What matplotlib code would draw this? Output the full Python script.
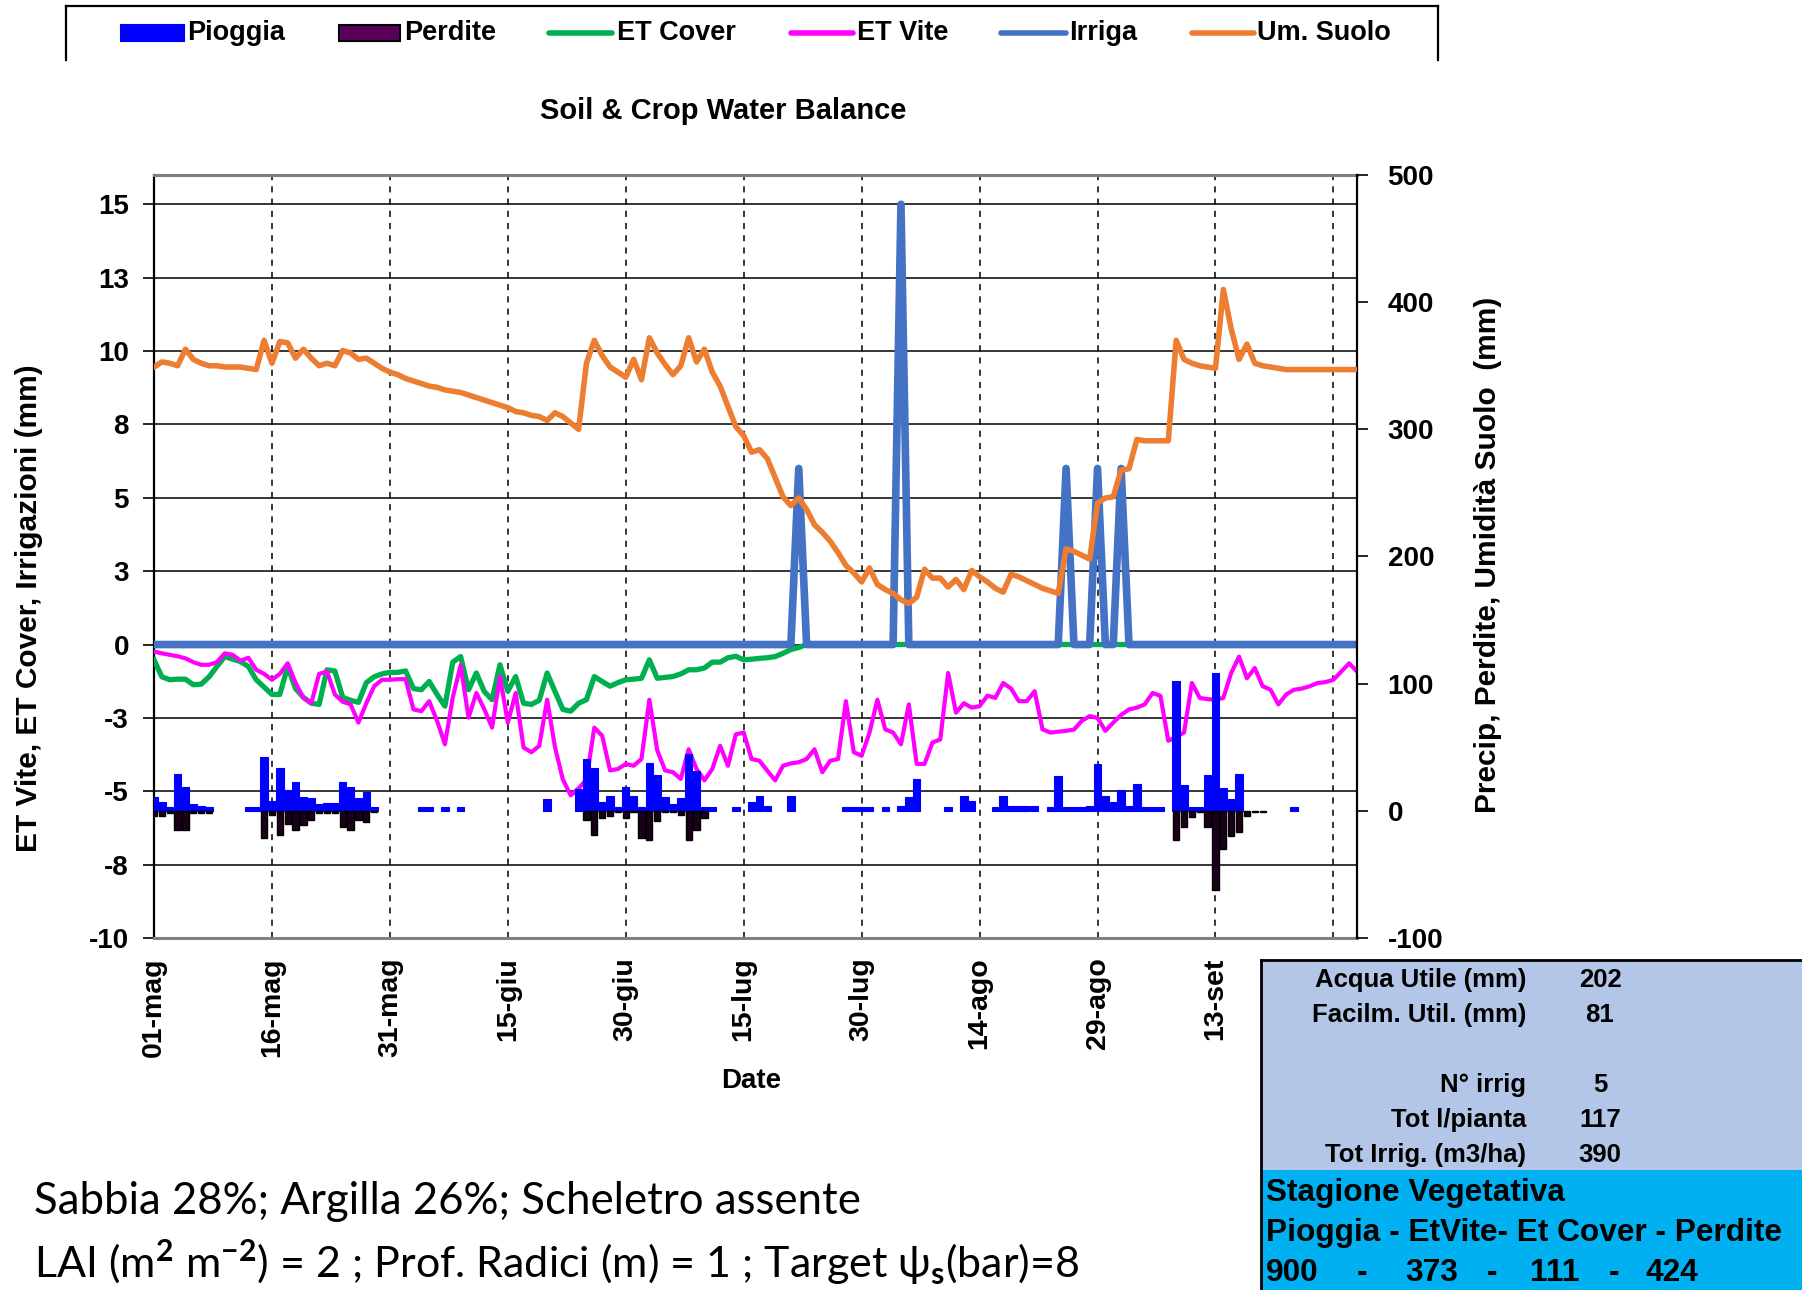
import numpy as np
import matplotlib
matplotlib.use("Agg")
import matplotlib.pyplot as plt
from matplotlib.patches import Rectangle
from matplotlib.lines import Line2D

# ---------------- data ----------------
date_labels = ['01-mag', '16-mag', '31-mag', '15-giu', '30-giu', '15-lug',
               '30-lug', '14-ago', '29-ago', '13-set', '']
left_tick_vals = [-10, -7.5, -5, -2.5, 0, 2.5, 5, 7.5, 10, 12.5, 15]
left_tick_labels = ['-10', '-8', '-5', '-3', '0', '3', '5', '8', '10', '13', '15']
right_tick_vals = [-100, 0, 100, 200, 300, 400, 500]

et_cover = [
    -0.52, -1.10, -1.20, -1.18, -1.18, -1.37, -1.35, -1.10, -0.75, -0.41,
    -0.50, -0.58, -0.75, -1.20, -1.45, -1.70, -1.70, -0.75, -1.50, -1.80,
    -2.00, -2.04, -0.86, -0.90, -1.80, -1.90, -1.97, -1.30, -1.10, -1.00,
    -0.95, -0.95, -0.90, -1.50, -1.54, -1.26, -1.70, -2.10, -0.60, -0.41,
    -1.54, -0.97, -1.60, -1.88, -0.69, -1.59, -1.09, -2.00, -2.04, -1.90,
    -0.97, -1.60, -2.21, -2.27, -2.00, -1.88, -1.09, -1.26, -1.42, -1.30,
    -1.20, -1.18, -1.15, -0.52, -1.15, -1.12, -1.09, -1.00, -0.86, -0.86,
    -0.80, -0.60, -0.60, -0.45, -0.40, -0.52, -0.50, -0.47, -0.45, -0.41,
    -0.30, -0.17, -0.10, 0, 0, 0, 0, 0, 0, 0,
    0, 0, 0, 0, 0, 0, 0, 0, 0, 0,
    0, 0, 0, 0, 0, 0, 0, 0, 0, 0,
    0, 0, 0, 0, 0, 0, 0, 0, 0, 0,
    0, 0, 0, 0, 0, 0, 0, 0, 0, 0,
    0, 0, 0, 0, 0, 0, 0, 0, 0, 0,
    0, 0, 0, 0, 0, 0, 0, 0, 0, 0,
    0, 0, 0, 0]

et_vite = [
    -0.24, -0.30, -0.35, -0.40, -0.47, -0.60, -0.69, -0.69, -0.60, -0.30,
    -0.35, -0.55, -0.45, -0.86, -1.00, -1.20, -1.00, -0.64, -1.30, -1.82,
    -2.00, -1.00, -0.92, -1.70, -1.95, -2.04, -2.66, -2.00, -1.42, -1.20,
    -1.20, -1.18, -1.18, -2.21, -2.27, -1.93, -2.60, -3.40, -1.80, -0.70,
    -2.49, -1.65, -2.20, -2.83, -1.09, -2.66, -1.65, -3.51, -3.67, -3.45,
    -1.88, -3.50, -4.60, -5.14, -4.90, -4.60, -2.83, -3.11, -4.29, -4.24,
    -4.07, -4.13, -3.90, -1.88, -3.60, -4.29, -4.35, -4.58, -3.57, -4.24,
    -4.63, -4.24, -3.45, -4.13, -3.06, -3.00, -3.90, -3.96, -4.30, -4.63,
    -4.13, -4.05, -4.01, -3.90, -3.57, -4.35, -3.96, -3.90, -1.93, -3.67,
    -3.79, -3.00, -1.88, -2.89, -3.00, -3.40, -2.04, -4.07, -4.07, -3.34,
    -3.23, -0.97, -2.32, -2.00, -2.15, -2.10, -1.74, -1.82, -1.31, -1.50,
    -1.93, -1.93, -1.59, -2.89, -3.00, -2.97, -2.94, -2.90, -2.60, -2.44,
    -2.50, -2.94, -2.66, -2.40, -2.21, -2.15, -2.04, -1.65, -1.75, -3.28,
    -3.15, -3.00, -1.31, -1.82, -1.86, -1.88, -1.82, -0.97, -0.41, -1.15,
    -0.80, -1.42, -1.54, -2.04, -1.70, -1.54, -1.50, -1.42, -1.31, -1.28,
    -1.20, -0.92, -0.64, -0.92]

soil_moisture = [
    349, 353, 352, 350, 363, 355, 352, 350, 350, 349,
    349, 349, 348, 347, 370, 352, 369, 368, 356, 363,
    356, 350, 352, 350, 362, 360, 355, 356, 352, 348,
    345, 343, 340, 338, 336, 334, 333, 331, 330, 329,
    327, 325, 323, 321, 319, 317, 314, 313, 311, 310,
    307, 313, 310, 305, 300, 352, 370, 358, 349, 345,
    341, 355, 339, 372, 360, 351, 343, 350, 372, 353,
    363, 345, 334, 318, 302, 295, 282, 284, 277, 262,
    247, 240, 246, 237, 225, 219, 212, 203, 193, 187,
    180, 191, 178, 174, 171, 166, 163, 168, 190, 183,
    183, 176, 182, 174, 189, 184, 180, 175, 172, 186,
    184, 181, 178, 175, 173, 171, 206, 204, 201, 198,
    242, 246, 247, 268, 269, 292, 291, 291, 291, 291,
    370, 355, 352, 350, 349, 348, 410, 379, 355, 367,
    352, 350, 349, 348, 347, 347, 347, 347, 347, 347,
    347, 347, 347, 347]

irr_days = [82, 95, 116, 120, 123]
irr_mm = [6, 15, 6, 6, 6]

rain_days = [0, 1, 2, 3, 4, 5, 6, 7, 12, 13, 14, 15, 16, 17, 18, 19, 20, 21,
             22, 23, 24, 25, 26, 27, 28, 34, 35, 37, 39, 50, 54, 55, 56, 57,
             58, 59, 60, 61, 62, 63, 64, 65, 66, 67, 68, 69, 70, 71, 74, 76,
             77, 78, 81, 88, 89, 90, 91, 93, 95, 96, 97, 101, 103, 104, 107,
             108, 109, 110, 111, 112, 114, 115, 116, 117, 118, 119, 120, 121,
             122, 123, 124, 125, 126, 127, 128, 130, 131, 132, 133, 134, 135,
             136, 137, 138, 145]
rain_mm = [11, 7, 3, 29, 19, 5, 4, 3, 3, 3, 42, 8, 34, 16, 23, 11, 10, 5,
           6, 6, 23, 19, 10, 15, 3, 3, 3, 3, 3, 9, 17, 41, 34, 7,
           12, 3, 19, 12, 3, 38, 28, 11, 5, 10, 45, 31, 3, 3, 3, 7,
           12, 4, 12, 3, 3, 3, 3, 3, 4, 11, 25, 3, 12, 8, 3,
           12, 4, 4, 4, 4, 3, 27, 3, 3, 3, 4, 37, 12,
           7, 16, 4, 21, 3, 3, 3, 102, 20, 3, 3, 28, 108,
           18, 9, 29, 3]

perd_days = [0, 1, 2, 3, 4, 5, 6, 7, 14, 15, 16, 17, 18, 19, 20, 21, 22, 23,
             24, 25, 26, 27, 28, 55, 56, 57, 58, 59, 60, 61, 62, 63, 64, 65,
             66, 67, 68, 69, 70, 130, 131, 132, 133, 134, 135, 136, 137, 138,
             139, 140, 141]
perd_mm = [4, 4, 2, 15, 15, 2, 2, 2, 21, 3, 19, 10, 15, 11, 7, 2, 2, 2,
           13, 15, 7, 9, 1, 7, 19, 6, 4, 1, 6, 1, 21, 23, 8, 1,
           1, 3, 23, 15, 6, 23, 13, 5, 1, 13, 62, 30, 20, 17,
           4, 1, 1]

table_labels = ['Acqua Utile (mm)', 'Facilm. Util. (mm)', 'N° irrig',
                'Tot l/pianta', 'Tot Irrig. (m3/ha)']
table_values = ['202', '81', '5', '117', '390']
season_values = ['900', '373', '111', '424']

# ---------------- style ----------------
W, H = 1802, 1290
plt.rcParams['font.family'] = ['Liberation Sans', 'DejaVu Sans']
plt.rcParams['font.weight'] = 'bold'
plt.rcParams['axes.unicode_minus'] = False
plt.rcParams['mathtext.fontset'] = 'custom'
plt.rcParams['mathtext.rm'] = 'Lato'
plt.rcParams['mathtext.it'] = 'Lato:italic'
plt.rcParams['mathtext.bf'] = 'Lato:bold'

C_RAIN = '#0000FF'
C_PERD = '#5A005A'
C_COVER = '#00B050'
C_VITE = '#FF00FF'
C_IRR = '#4472C4'
C_SOIL = '#ED7D31'


def fx(px):
    return px / W


def fy(py):
    return 1 - py / H


fig = plt.figure(figsize=(W / 100, H / 100), dpi=100)
ax1 = fig.add_axes([fx(154), fy(938), (1357 - 154) / W, (938 - 175) / H])
ax2 = ax1.twinx()

days = np.arange(len(soil_moisture))
irriga = np.zeros(len(days))
irriga[irr_days] = irr_mm

ax1.set_xlim(0, 153)
ax1.set_ylim(-10, 16)
ax2.set_ylim(-100, 500)

# grid
ax1.set_yticks(left_tick_vals)
ax1.set_yticklabels(left_tick_labels)
ax1.set_xticks(np.arange(0, 151, 15))
ax1.set_xticklabels(date_labels, rotation=90, va='top', ha='center')
ax1.yaxis.grid(True, color='black', lw=1.1)
ax1.xaxis.grid(True, color='black', lw=1.1, ls=(0, (4, 4)))
ax1.set_axisbelow(True)

# primary series
ax1.plot(days, et_cover, color=C_COVER, lw=3.8, zorder=3)
ax1.plot(days, et_vite, color=C_VITE, lw=3.0, zorder=4)
ax1.plot(days, irriga, color=C_IRR, lw=5.5, zorder=5)

# secondary series
ax2.bar(rain_days, rain_mm, width=0.95, color=C_RAIN, edgecolor=C_RAIN,
        lw=0.8, zorder=2)
ax2.bar(perd_days, -np.array(perd_mm), width=0.8, color='#1a001a',
        edgecolor='black', lw=1.0, zorder=2)
ax2.plot(days, soil_moisture, color=C_SOIL, lw=4.0, zorder=4)

ax2.set_yticks(right_tick_vals)

# spines & ticks
for s in ['top', 'bottom']:
    ax1.spines[s].set_color('#808080')
    ax1.spines[s].set_linewidth(2.2)
ax1.spines['left'].set_color('black')
ax1.spines['left'].set_linewidth(1.6)
ax1.spines['right'].set_visible(False)
for s in ['top', 'bottom', 'left']:
    ax2.spines[s].set_visible(False)
ax2.spines['right'].set_color('black')
ax2.spines['right'].set_linewidth(1.6)

ax1.tick_params(axis='y', direction='out', length=8, width=1.2, pad=10,
                labelsize=20)
ax1.tick_params(axis='x', length=0, pad=14, labelsize=20.5)
ax2.tick_params(axis='y', direction='out', length=8, width=1.2, pad=14,
                labelsize=20)

# titles / labels
fig.text(fx(723), fy(111), 'Soil & Crop Water Balance', ha='center',
         va='center', fontsize=21)
fig.text(fx(29), fy(608), 'ET Vite, ET Cover, Irrigazioni (mm)', rotation=90,
         ha='center', va='center', fontsize=21.5)
fig.text(fx(1488), fy(555), 'Precip, Perdite, Umidità Suolo  (mm)',
         rotation=90, ha='center', va='center', fontsize=21.5)
fig.text(fx(751), fy(1081), 'Date', ha='center', va='center', fontsize=20)

# legend (manual, top box)
for (x0, y0, x1, y1) in [(65.5, 6, 1437.6, 6), (65.5, 6, 65.5, 60),
                         (1437.6, 6, 1437.6, 60)]:
    fig.add_artist(Line2D([fx(x0), fx(x1)], [fy(y0), fy(y1)], color='black',
                          lw=1.6, transform=fig.transFigure))
leg_items = [
    ('patch', C_RAIN, C_RAIN, 121, 184, 187, 'Pioggia'),
    ('patch', C_PERD, 'black', 339, 400, 404, 'Perdite'),
    ('line', C_COVER, None, 549, 612, 617, 'ET Cover'),
    ('line', C_VITE, None, 791, 853, 857, 'ET Vite'),
    ('line', C_IRR, None, 1001, 1066, 1069, 'Irriga'),
    ('line', C_SOIL, None, 1192, 1254, 1257, 'Um. Suolo'),
]
ly = 33
for kind, col, ec, x0, x1, tx, lab in leg_items:
    if kind == 'patch':
        fig.add_artist(Rectangle((fx(x0), fy(ly + 8)), (x1 - x0) / W, 16 / H,
                                 facecolor=col, edgecolor=ec, lw=1.5,
                                 transform=fig.transFigure))
    else:
        fig.add_artist(Line2D([fx(x0), fx(x1)], [fy(ly), fy(ly)], color=col,
                              lw=4.0, solid_capstyle='round',
                              transform=fig.transFigure))
    fig.text(fx(tx), fy(ly), lab, ha='left', va='center', fontsize=19.5)

# bottom-left notes
fig.text(fx(34), fy(1201), 'Sabbia 28%; Argilla 26%; Scheletro assente',
         ha='left', va='center', fontsize=31.5, fontweight='normal',
         family=['Lato', 'Noto Sans', 'DejaVu Sans'])
fig.text(fx(34), fy(1262),
         r'LAI (m$^{2}$ m$^{-2}$) = 2 ; Prof. Radici (m) = 1 ; Target ψ$_{\mathrm{s}}$(bar)=8',
         ha='left', va='center', fontsize=31, fontweight='normal',
         family=['Lato', 'Noto Sans', 'DejaVu Sans'])

# summary table
fig.add_artist(Rectangle((fx(1261), fy(1170)), (W - 1261) / W, (1170 - 960) / H,
                         facecolor='#B4C6E7', edgecolor='none',
                         transform=fig.transFigure))
fig.add_artist(Rectangle((fx(1261), fy(H + 2)), (W - 1261) / W, (H + 2 - 1170) / H,
                         facecolor='#00B0F0', edgecolor='none',
                         transform=fig.transFigure))
fig.add_artist(Line2D([fx(1261), fx(W)], [fy(960), fy(960)], color='black',
                      lw=2.0, transform=fig.transFigure))
fig.add_artist(Line2D([fx(1261), fx(1261)], [fy(960), fy(H)], color='black',
                      lw=2.0, transform=fig.transFigure))
row_y = [980, 1015, 1085, 1120, 1155]
for lab, val, yy in zip(table_labels, table_values, row_y):
    fig.text(fx(1526), fy(yy), lab, ha='right', va='center', fontsize=18.5)
    fig.text(fx(1600), fy(yy), val, ha='center', va='center', fontsize=18.5)
fig.text(fx(1266), fy(1193), 'Stagione Vegetativa', ha='left', va='center',
         fontsize=22.8)
fig.text(fx(1266), fy(1233), 'Pioggia - EtVite- Et Cover - Perdite', ha='left',
         va='center', fontsize=22.8)
num_x = [1266, 1405, 1530, 1646]
dash_x = [1362, 1492, 1614]
for v, xx in zip(season_values, num_x):
    fig.text(fx(xx), fy(1273), v, ha='left', va='center', fontsize=22.8)
for xx in dash_x:
    fig.text(fx(xx), fy(1273), '-', ha='center', va='center', fontsize=22.8)

fig.savefig('out.png', dpi=100)
